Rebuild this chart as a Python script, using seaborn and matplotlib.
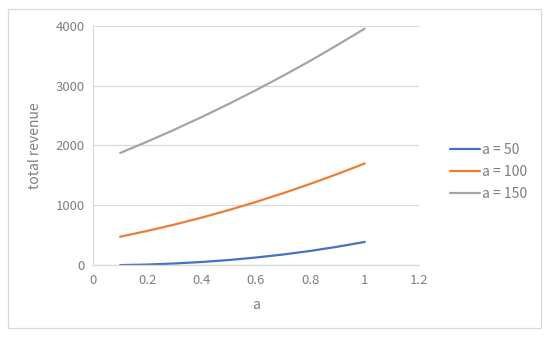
import pandas as pd
import matplotlib
matplotlib.use("Agg")
import matplotlib.pyplot as plt
import seaborn as sns
from matplotlib.patches import Rectangle

# data
a_values = [0.1, 0.2, 0.3, 0.4, 0.5, 0.6, 0.7, 0.8, 0.9, 1.0]
rev_50 = [3, 12, 30, 55, 88, 130, 180, 240, 310, 390]
rev_100 = [477, 574, 680, 796, 922, 1058, 1204, 1360, 1525, 1700]
rev_150 = [1875, 2065, 2265, 2475, 2695, 2925, 3165, 3415, 3680, 3950]
series_names = ["a = 50", "a = 100", "a = 150"]
x_ticks = [0, 0.2, 0.4, 0.6, 0.8, 1, 1.2]
y_ticks = [0, 1000, 2000, 3000, 4000]

df = pd.DataFrame({
    "a": a_values * 3,
    "revenue": rev_50 + rev_100 + rev_150,
    "series": [series_names[0]] * 10 + [series_names[1]] * 10 + [series_names[2]] * 10,
})

sns.set_style("white")
plt.rcParams["font.family"] = ["Noto Sans CJK SC", "DejaVu Sans"]

colors = ["#4472C4", "#ED7D31", "#A5A5A5"]
txt = "#7F7F7F"
grid = "#D9D9D9"

fig = plt.figure(figsize=(5.5, 3.37), dpi=100)
ax = fig.add_axes([0.169, 0.2128, 0.593, 0.7109])

sns.lineplot(data=df, x="a", y="revenue", hue="series", palette=colors,
             linewidth=1.6, ax=ax, legend=False)

ax.set_xlim(0, 1.2)
ax.set_ylim(0, 4000)
ax.set_xticks(x_ticks)
ax.set_xticklabels(["0", "0.2", "0.4", "0.6", "0.8", "1", "1.2"])
ax.set_yticks(y_ticks)
ax.yaxis.grid(True, color=grid, linewidth=0.9)
ax.set_axisbelow(True)
for s in ["top", "right"]:
    ax.spines[s].set_visible(False)
for s in ["left", "bottom"]:
    ax.spines[s].set_color(grid)
    ax.spines[s].set_linewidth(0.9)
ax.tick_params(length=0, labelsize=9.5, colors=txt, pad=6)
ax.set_xlabel("a", fontsize=10, color=txt, labelpad=8)
ax.set_ylabel("total revenue", fontsize=10, color=txt, labelpad=10)

handles = [plt.Line2D([], [], color=c, linewidth=1.6) for c in colors]
fig.legend(handles, series_names, loc="upper left", bbox_to_anchor=(0.795, 0.614),
           frameon=False, fontsize=10, labelcolor=txt, handlelength=2.15,
           handletextpad=0.2, labelspacing=0.6)

fig.patches.append(Rectangle((8 / 550, 1 - 328 / 337), 533 / 550, 319 / 337,
                             transform=fig.transFigure, fill=False,
                             edgecolor=grid, linewidth=0.9))

fig.savefig("out.png", dpi=100, facecolor="white")
